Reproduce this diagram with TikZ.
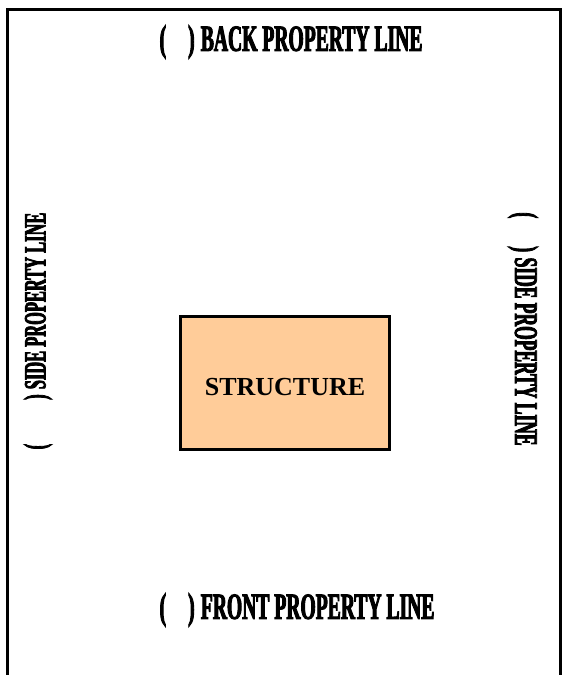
\documentclass[tikz,border=0pt]{standalone}
\usepackage{fontspec}
\setmainfont{Liberation Serif}
\newfontfamily\lotfont[FakeStretch=0.53,FakeBold=2.5]{Liberation Serif}
\usepackage{tikz}
\usetikzlibrary{positioning}
\definecolor{tan}{HTML}{FFCC99}
\newcommand{\lotlabel}[2]{{\lotfont\bfseries\fontsize{#1}{#1}\selectfont #2}}

\begin{document}
\begin{tikzpicture}[x=1pt,y=-1pt,line width=3pt]
  \useasboundingbox (0,0) rectangle (563,675);
  \draw (7.5,675) -- (7.5,9.5) -- (560,9.5) -- (560,675);
  \node[draw, fill=tan, minimum width=209pt, minimum height=133pt] (struct) at (285,383) {};
  \node[font=\bfseries\fontsize{26}{26}\selectfont] (structlabel) at (285,387) {STRUCTURE};
  \node[inner sep=0pt] (back) at (291,42) {\lotlabel{37}{(\hspace{22pt})\,BACK PROPERTY LINE}};
  \node[inner sep=0pt] (front) at (297,610) {\lotlabel{37}{(\hspace{22pt})\,FRONT PROPERTY LINE}};
  \node[inner sep=0pt, rotate=90] (lside) at (38,331) {\lotlabel{31}{(\hspace{44pt})\,SIDE PROPERTY LINE}};
  \node[inner sep=0pt, rotate=-90] (rside) at (523,329) {\lotlabel{33}{(\hspace{28pt})\,SIDE PROPERTY LINE}};
\end{tikzpicture}
\end{document}
